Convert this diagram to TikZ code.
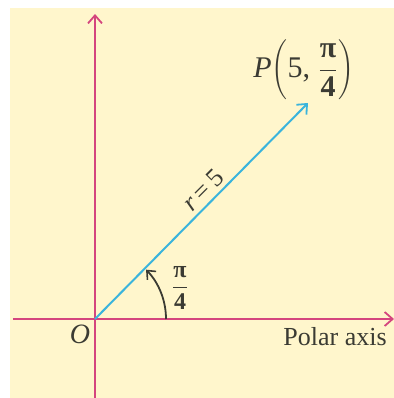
\documentclass[tikz,border=0pt]{standalone}
\usepackage{fontspec}
\setmainfont{Liberation Serif}
\usetikzlibrary{arrows.meta}
\definecolor{bg}{HTML}{FFF6CC}
\definecolor{axiscol}{HTML}{D4457E}
\definecolor{raycol}{HTML}{3AB4DC}
\definecolor{ink}{HTML}{3B3B33}
\tikzset{
  axisline/.style={draw=axiscol, line width=1pt, -{Straight Barb[length=4pt,width=7pt,line width=0.9pt]}},
  rayline/.style={draw=raycol, line width=1pt, -{Straight Barb[length=4pt,width=7pt,line width=0.9pt]}},
  arcline/.style={draw=ink, line width=0.9pt, -{Straight Barb[length=3.5pt,width=6pt,line width=0.8pt]}},
  lbl/.style={text=ink, inner sep=0pt, font=\fontsize{13}{15}\selectfont},
}
\newcommand{\pifrac}{{\displaystyle\mbox{\bfseries π}\over\displaystyle\mbox{\bfseries 4}}}
\begin{document}
\begin{tikzpicture}[x=0.5pt,y=-0.5pt]
\useasboundingbox (0,0) rectangle (394,398);
\fill[white] (0,0) rectangle (394,398);
\fill[bg] (10,8) rectangle (394,398);
\coordinate (O) at (95,319);
\coordinate (xs) at (13,319);
\coordinate (xe) at (394,319);
\coordinate (ys) at (95,398);
\coordinate (ye) at (95,14);
\coordinate (P) at (308,103);
\coordinate (A) at (166,319);
\draw[axisline] (xs) -- (xe);
\draw[axisline] (ys) -- (ye);
\draw[rayline] (O) -- (P);
\draw[arcline] (A) arc[start angle=0, end angle=-44, radius=71];
\node[lbl, font=\fontsize{12}{14}\selectfont] (ang) at (180,288) {$\displaystyle\pifrac$};
\node[lbl, font=\fontsize{14}{16}\selectfont\itshape] (olbl) at (80,334) {O};
\node[lbl] (polar) at (335,337) {Polar axis};
\node[lbl, rotate=45] (rlbl) at (203,190) {\textit{r}\,=\,5};
\node[lbl, font=\fontsize{15}{17}\selectfont] (plbl) at (304,70) {\textit{P}$\displaystyle\left(\mbox{5, }\pifrac\right)$};
\end{tikzpicture}
\end{document}
